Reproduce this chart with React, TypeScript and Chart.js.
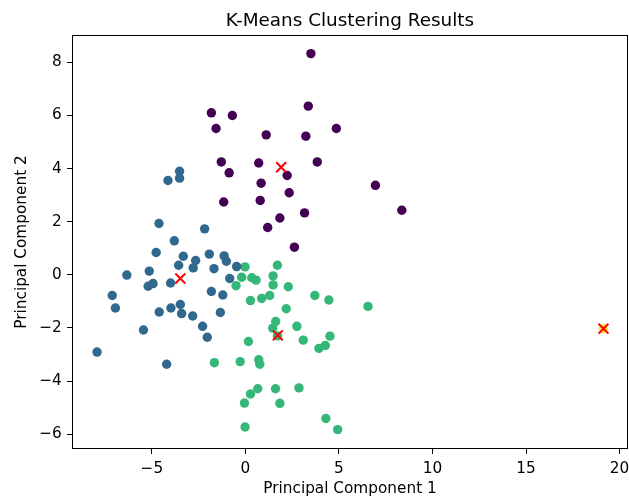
import React, { useEffect, useRef } from "react";
import { Chart, registerables } from "chart.js";

Chart.register(...registerables);

const cluster0: [number, number][] = [
  [3.5, 8.33], [-1.82, 6.1], [-0.7, 6.0], [-1.57, 5.51], [3.36, 6.35], [1.11, 5.27],
  [3.23, 5.22], [4.86, 5.51], [-1.29, 4.25], [0.71, 4.21], [-0.87, 3.84], [2.23, 3.74],
  [3.84, 4.25], [0.84, 3.45], [2.34, 3.09], [6.95, 3.37], [-1.16, 2.74], [0.79, 2.8],
  [3.16, 2.33], [1.84, 2.14], [1.19, 1.78], [2.62, 1.04], [8.36, 2.43],
];

const cluster1: [number, number][] = [
  [-3.52, 3.9], [-3.52, 3.64], [-4.14, 3.55], [-4.62, 1.93], [-2.18, 1.73], [-3.8, 1.28],
  [-4.77, 0.84], [-3.32, 0.7], [-2.66, 0.54], [-1.93, 0.78], [-1.14, 0.71], [-1.02, 0.51],
  [-3.57, 0.36], [-2.79, 0.26], [-1.68, 0.23], [-0.47, 0.31], [-6.34, -0.01], [-5.14, 0.14],
  [-0.84, -0.14], [-4.94, -0.33], [-5.2, -0.43], [-4.0, -0.31], [-1.82, -0.63], [-1.21, -0.76],
  [-7.12, -0.78], [-6.95, -1.25], [-4.61, -1.4], [-3.98, -1.25], [-3.48, -1.12], [-3.41, -1.46],
  [-2.82, -1.55], [-1.34, -1.42], [-2.29, -1.94], [-5.45, -2.08], [-2.04, -2.35], [-7.93, -2.91],
  [-4.21, -3.37],
];

const cluster2: [number, number][] = [
  [-0.02, 0.3], [1.71, 0.36], [-0.2, -0.09], [0.34, -0.11], [0.57, -0.2], [1.48, -0.04],
  [1.48, -0.38], [-0.5, -0.41], [2.29, -0.45], [1.3, -0.78], [0.87, -0.89], [0.27, -0.97],
  [3.71, -0.78], [4.46, -0.95], [6.55, -1.19], [2.18, -1.28], [1.62, -1.76], [1.46, -2.01],
  [2.75, -1.94], [3.09, -2.46], [4.52, -2.31], [4.27, -2.66], [3.93, -2.77], [0.16, -2.51],
  [-1.66, -3.31], [-0.28, -3.27], [0.71, -3.2], [0.77, -3.37], [0.66, -4.29], [0.27, -4.49],
  [1.61, -4.29], [2.86, -4.26], [-0.05, -4.83], [1.84, -4.84], [-0.02, -5.73], [4.3, -5.41],
  [4.93, -5.83], [1.71, -2.3],
];

const cluster3: [number, number][] = [[19.14, -2.03]];

const centroids: [number, number][] = [
  [1.91, 4.05], [-3.48, -0.14], [1.73, -2.28], [19.14, -2.03],
];

const clusterColors = ["#440154", "#31688e", "#35b779", "#fde725"];

const xTicks = [-5, 0, 5, 10, 15, 20];
const yTicks = [-6, -4, -2, 0, 2, 4, 6, 8];
const xRange = [-9.27, 20.45];
const yRange = [-6.56, 9.03];

const titleText = "K-Means Clustering Results";
const xLabel = "Principal Component 1";
const yLabel = "Principal Component 2";

const FONT = "'DejaVu Sans', sans-serif";
const LABEL_SIZE = 15.3;
const TITLE_SIZE = 18.4;

const fmt = (v: number) => (v < 0 ? "\u2212" + Math.abs(v) : String(v));

const zeroPad = () => ({ left: 0, top: 0, right: 0, bottom: 0 });

const framePlugin = {
  id: "frame",
  afterDatasetsDraw(chart: any) {
    const { ctx, chartArea } = chart;
    ctx.save();
    ctx.strokeStyle = "#000";
    ctx.lineWidth = 1;
    const l = Math.round(chartArea.left) + 0.5;
    const t = Math.round(chartArea.top) + 0.5;
    const r = Math.round(chartArea.right) - 0.5;
    const b = Math.round(chartArea.bottom) - 0.5;
    ctx.strokeRect(l, t, r - l, b - t);
    ctx.restore();
  },
  afterDraw(chart: any) {
    const { ctx, chartArea } = chart;
    ctx.save();
    ctx.fillStyle = "#000";
    ctx.font = `${TITLE_SIZE}px ${FONT}`;
    ctx.textAlign = "center";
    ctx.textBaseline = "alphabetic";
    ctx.fillText(titleText, (chartArea.left + chartArea.right) / 2, 26);
    ctx.restore();
  },
};

export default function App() {
  const ref = useRef<HTMLCanvasElement | null>(null);

  useEffect(() => {
    if (!ref.current) return;
    const toPts = (arr: [number, number][]) => arr.map(([x, y]) => ({ x, y }));
    const clusters = [cluster0, cluster1, cluster2, cluster3];
    const datasets: any[] = [
      {
        label: "Centroids",
        data: toPts(centroids),
        pointStyle: "crossRot",
        pointRadius: 7,
        pointHoverRadius: 7,
        borderColor: "#ff0000",
        backgroundColor: "#ff0000",
        pointBorderWidth: 2,
        order: 0,
      },
      ...clusters.map((c, i) => ({
        label: "Cluster " + i,
        data: toPts(c),
        pointRadius: 4.7,
        pointHoverRadius: 4.7,
        backgroundColor: clusterColors[i],
        borderColor: clusterColors[i],
        borderWidth: 0,
        pointBorderWidth: 0,
        order: 1,
      })),
    ];

    const chart = new Chart(ref.current, {
      type: "scatter",
      data: { datasets },
      plugins: [framePlugin],
      options: {
        animation: false,
        responsive: false,
        layout: { autoPadding: false, padding: { top: 35, left: 0, right: 1, bottom: 0 } },
        plugins: {
          legend: { display: false },
          tooltip: { enabled: false },
          title: { display: false },
        },
        scales: {
          x: {
            type: "linear",
            min: xRange[0],
            max: xRange[1],
            afterBuildTicks: (s: any) => {
              s.ticks = xTicks.map((v) => ({ value: v }));
            },
            afterFit: (s: any) => {
              s.height = 51;
              s.paddingLeft = 0;
              s.paddingRight = 0;
              s.paddingTop = 0;
              s.paddingBottom = 0;
              s.getPadding = zeroPad;
            },
            ticks: {
              color: "#000",
              font: { family: FONT, size: LABEL_SIZE },
              padding: 6,
              maxRotation: 0,
              autoSkip: false,
              callback: (v: any) => fmt(Number(v)),
            },
            grid: {
              drawOnChartArea: false,
              drawTicks: true,
              tickLength: 5,
              color: "#000",
              lineWidth: 1,
            },
            border: { display: false },
            title: {
              display: true,
              text: xLabel,
              color: "#000",
              font: { family: FONT, size: LABEL_SIZE },
              padding: { top: 0, bottom: 1.3 },
            },
          },
          y: {
            type: "linear",
            min: yRange[0],
            max: yRange[1],
            afterBuildTicks: (s: any) => {
              s.ticks = yTicks.map((v) => ({ value: v }));
            },
            afterFit: (s: any) => {
              s.width = 72;
              s.paddingLeft = 0;
              s.paddingRight = 0;
              s.paddingTop = 0;
              s.paddingBottom = 0;
              s.getPadding = zeroPad;
            },
            ticks: {
              color: "#000",
              font: { family: FONT, size: LABEL_SIZE },
              padding: 5.3,
              autoSkip: false,
              callback: (v: any) => fmt(Number(v)),
            },
            grid: {
              drawOnChartArea: false,
              drawTicks: true,
              tickLength: 5,
              color: "#000",
              lineWidth: 1,
            },
            border: { display: false },
            title: {
              display: true,
              text: yLabel,
              color: "#000",
              font: { family: FONT, size: LABEL_SIZE },
              padding: { top: 12.5, bottom: 0 },
            },
          },
        },
      } as any,
    });
    return () => chart.destroy();
  }, []);

  return (
    <div style={{ position: "fixed", left: 0, top: 0, width: 629, height: 500, background: "#fff" }}>
      <canvas ref={ref} width={629} height={500} style={{ display: "block" }} />
    </div>
  );
}
